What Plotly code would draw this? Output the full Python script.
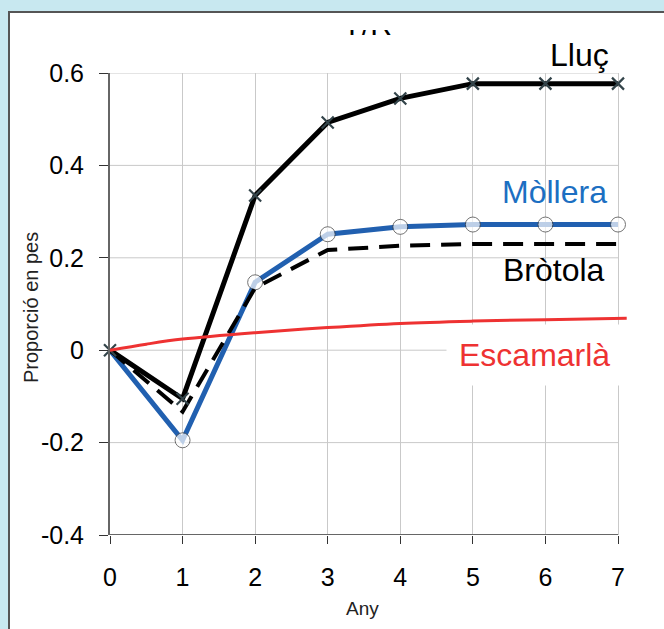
import plotly.graph_objects as go

# ---------------- data ----------------
years = [0, 1, 2, 3, 4, 5, 6, 7]
lluc = [0.0, -0.105, 0.335, 0.493, 0.545, 0.577, 0.577, 0.577]
mollera = [0.0, -0.195, 0.147, 0.251, 0.267, 0.272, 0.272, 0.272]
brotola_x = [0, 1, 2, 3, 4, 5, 6, 7, 7.12]
brotola = [0.0, -0.133, 0.135, 0.217, 0.226, 0.230, 0.230, 0.230, 0.230]
escamarla_x = [0, 0.5, 1, 2, 3, 4, 5, 6, 7.12]
escamarla = [0.0, 0.013, 0.024, 0.038, 0.049, 0.058, 0.063, 0.066, 0.069]
y_ticks = [-0.4, -0.2, 0, 0.2, 0.4, 0.6]
y_ticktext = ["-0.4", "-0.2", "0", "0.2", "0.4", "0.6"]
x_title = "Any"
y_title = "Proporció en pes"
chart_title = "Y/R"

# ---------------- geometry helpers (pixels -> paper) ----------------
W, H = 664, 629
def px(x):
    return x / W
def py(y):
    return 1 - y / H

FONT = "Liberation Sans, Arial, sans-serif"
BLUE_LINE = "#2160b0"
BLUE_TEXT = "#1c6fc2"
RED = "#ee3232"
GRID = "#c9c9c9"
AXIS = "#666666"
BG = "#c8e8f0"

x_left, x_right = 110, 627          # plot-area pixels
x7_px = 618                          # pixel of x = 7
y_top, y_bot = 73, 535
x_max = 7 * (x_right - x_left) / (x7_px - x_left)

fig = go.Figure()

fig.add_trace(go.Scatter(
    x=years, y=mollera, mode="lines+markers",
    line=dict(color=BLUE_LINE, width=5),
    marker=dict(symbol="circle", size=[0] + [15] * 7, color="white",
                line=dict(color="#3a3a3a", width=1)),
    cliponaxis=False, name="Mòllera"))

fig.add_trace(go.Scatter(
    x=brotola_x, y=brotola, mode="lines",
    line=dict(color="black", width=4, dash="20px,11px"),
    cliponaxis=False, name="Bròtola"))

fig.add_trace(go.Scatter(
    x=years, y=lluc, mode="lines+markers",
    line=dict(color="black", width=5),
    marker=dict(symbol="x-thin", size=12, color="#33444a",
                line=dict(color="#33444a", width=2.2)),
    cliponaxis=False, name="Lluç"))

fig.add_trace(go.Scatter(
    x=escamarla_x, y=escamarla, mode="lines",
    line=dict(color=RED, width=3, shape="spline"),
    cliponaxis=False, name="Escamarlà"))

# clipped title (only its lower part shows, as in the reference)
fig.add_trace(go.Scatter(
    x=[367], y=[27], mode="text", text=[chart_title],
    textfont=dict(family=FONT, size=30, color="black"),
    textposition="middle center",
    xaxis="x3", yaxis="y3", cliponaxis=True, hoverinfo="skip"))

shapes = []
# white panel with border
shapes.append(dict(type="rect", xref="paper", yref="paper",
                   x0=px(9), x1=px(700), y0=py(12), y1=py(700),
                   fillcolor="white", line=dict(color="#555555", width=2),
                   layer="below"))
# horizontal grid lines (stop at x = 7)
for v in y_ticks[1:]:
    shapes.append(dict(type="line", xref="x", yref="y", x0=0, x1=years[-1],
                       y0=v, y1=v, line=dict(color=GRID, width=1), layer="below"))
# x axis line
shapes.append(dict(type="line", xref="x", yref="y", x0=0, x1=years[-1],
                   y0=y_ticks[0], y1=y_ticks[0], line=dict(color=AXIS, width=2),
                   layer="above"))

annotations = [
    dict(text="Lluç", xref="paper", yref="paper", x=px(611), y=py(55),
         xanchor="right", yanchor="middle", showarrow=False,
         font=dict(family=FONT, size=32, color="black")),
    dict(text="Mòllera", xref="paper", yref="paper", x=px(609), y=py(192),
         xanchor="right", yanchor="middle", showarrow=False,
         font=dict(family=FONT, size=32, color=BLUE_TEXT)),
    dict(text="Bròtola", xref="paper", yref="paper", x=px(607), y=py(270),
         xanchor="right", yanchor="middle", showarrow=False,
         font=dict(family=FONT, size=32, color="black")),
    dict(text="Escamarlà", xref="paper", yref="paper", x=px(623), y=py(355),
         xanchor="right", yanchor="middle", showarrow=False,
         bgcolor="white", borderpad=12,
         font=dict(family=FONT, size=32, color=RED)),
    dict(text=x_title, xref="paper", yref="paper", x=px(362), y=py(608),
         xanchor="center", yanchor="middle", showarrow=False,
         font=dict(family=FONT, size=19, color="#222222")),
    dict(text=y_title, xref="paper", yref="paper", x=px(31), y=py(308),
         xanchor="center", yanchor="middle", showarrow=False, textangle=-90,
         font=dict(family=FONT, size=20, color="#222222")),
]

fig.update_layout(
    width=W, height=H,
    margin=dict(l=0, r=0, t=0, b=0, autoexpand=False),
    paper_bgcolor=BG,
    plot_bgcolor="rgba(0,0,0,0)",
    showlegend=False,
    shapes=shapes,
    annotations=annotations,
    xaxis=dict(domain=[px(x_left), px(x_right)], range=[0, x_max],
               tickvals=years, ticktext=[str(v) for v in years],
               showgrid=True, gridcolor=GRID, gridwidth=1,
               zeroline=False, showline=False,
               ticks="outside", ticklen=8, tickwidth=1, tickcolor="#333333",
               ticklabelstandoff=12,
               tickfont=dict(family=FONT, size=25, color="black"),
               fixedrange=True),
    yaxis=dict(domain=[py(y_bot), py(y_top)], range=[-0.4, 0.6],
               tickvals=y_ticks, ticktext=y_ticktext,
               showgrid=False, zeroline=False,
               showline=True, linecolor=AXIS, linewidth=2,
               ticks="outside", ticklen=9, tickwidth=1, tickcolor="#333333",
               ticklabelstandoff=10,
               tickfont=dict(family=FONT, size=25, color="black"),
               fixedrange=True),
    xaxis3=dict(domain=[0, 1], range=[0, W], visible=False, anchor="y3",
                fixedrange=True),
    yaxis3=dict(domain=[py(60), py(30)], range=[60, 30], visible=False,
                anchor="x3", fixedrange=True),
)

fig.write_html(
    "out.html",
    config={"displayModeBar": False},
    post_script="document.body.style.margin='0';"
                "document.body.style.background='" + BG + "';"
                "document.documentElement.style.overflow='hidden';",
)
